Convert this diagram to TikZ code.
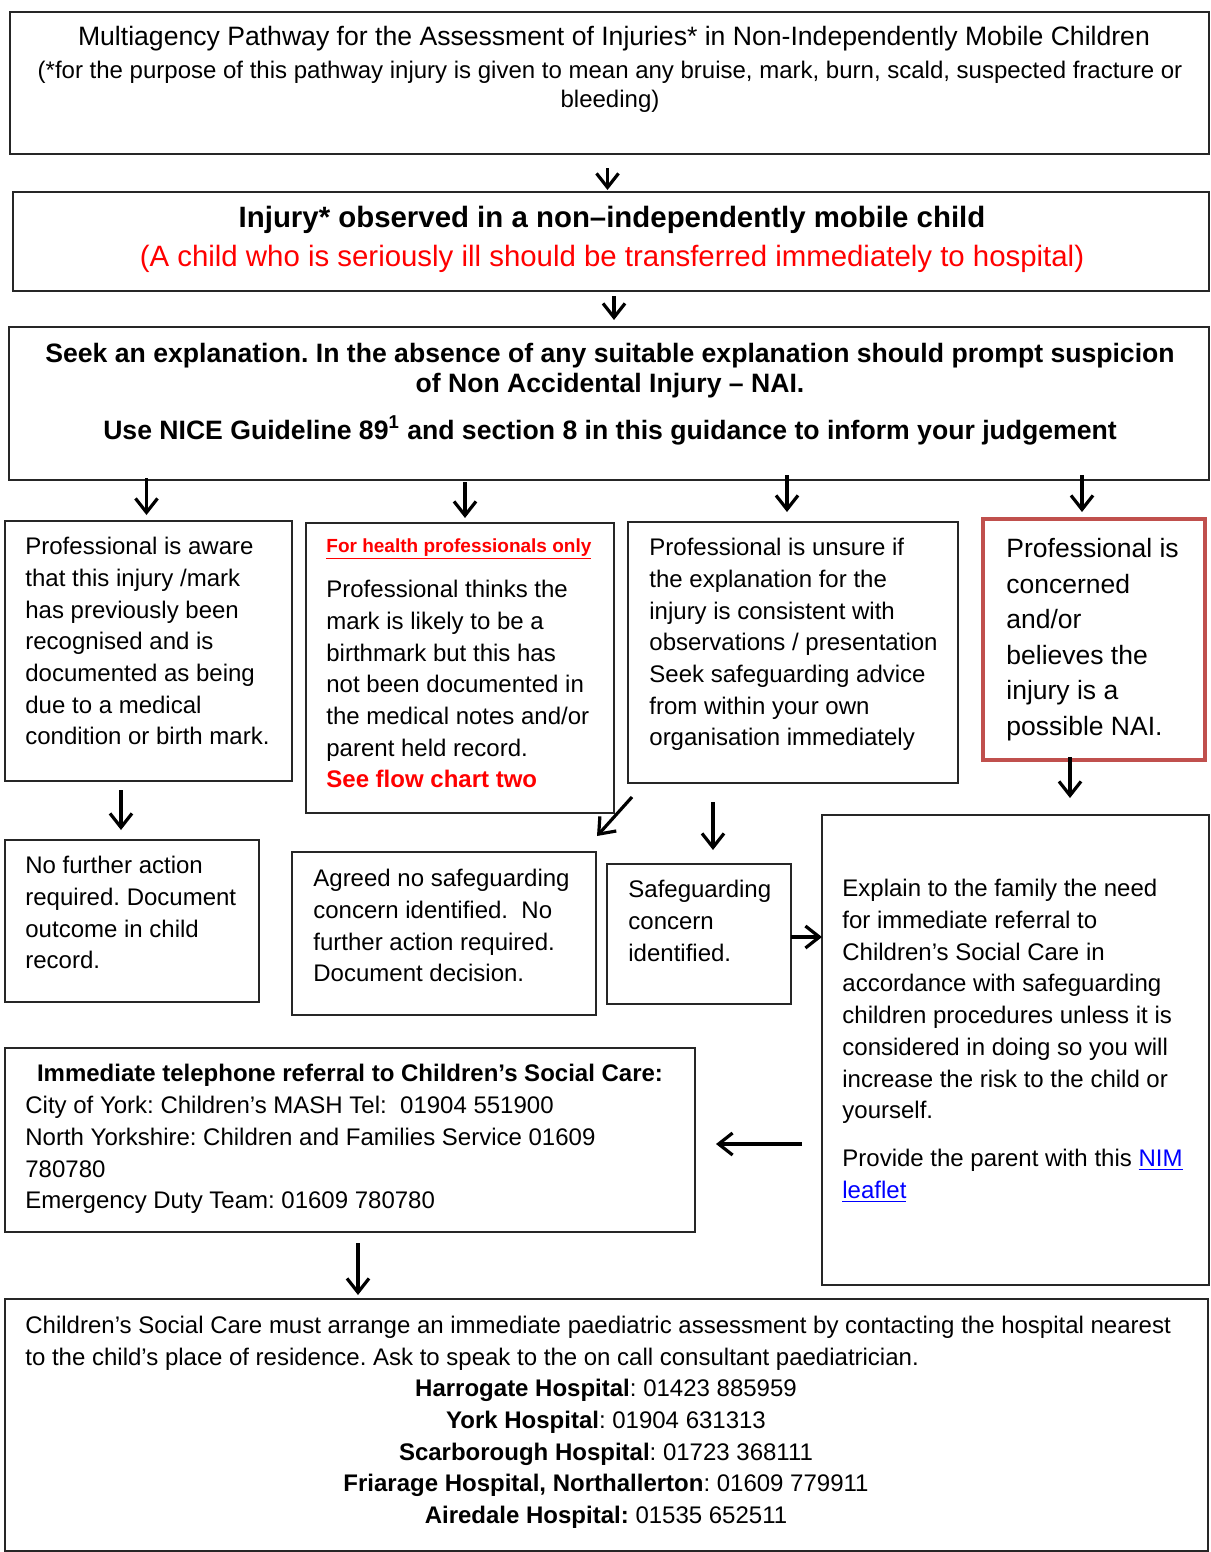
\documentclass[tikz,border=0pt]{standalone}
\usepackage{fontspec}
\setmainfont{Liberation Sans}
\usetikzlibrary{arrows.meta,calc}
\definecolor{redbox}{RGB}{192,80,77}
\definecolor{linkblue}{RGB}{0,0,255}
\definecolor{txtred}{RGB}{255,0,0}
\newcommand\lnk[1]{\textcolor{linkblue}{\underline{#1}}}
\frenchspacing
\begin{document}
\begin{tikzpicture}[x=0.5pt,y=-0.5pt,
  box/.style={draw=black!85, line width=0.75pt, anchor=north west, inner sep=0pt, outer sep=0pt},
  redframe/.style={draw=redbox, line width=2pt, anchor=north west, inner sep=0pt, outer sep=0pt},
  txt/.style={anchor=north west, inner sep=0pt, align=left, font=\fontsize{12}{15.85}\selectfont},
  ctxt/.style={inner sep=0pt, align=center},
  arr/.style={line width=1.6pt, -{Straight Barb[length=7pt,width=11pt,line width=1.6pt]}},
]
\useasboundingbox (0,0) rectangle (1210,1552);

% boxes
\node[box, minimum width=1199*0.5pt, minimum height=142*0.5pt] (b1) at (10,12) {};
\node[box, minimum width=1196*0.5pt, minimum height=99*0.5pt] (b2) at (13,192) {};
\node[box, minimum width=1200*0.5pt, minimum height=153*0.5pt] (b3) at (9,327) {};
\node[box, minimum width=287*0.5pt, minimum height=260*0.5pt] (b4a) at (5,521) {};
\node[box, minimum width=308*0.5pt, minimum height=290*0.5pt] (b4b) at (306,523) {};
\node[box, minimum width=330*0.5pt, minimum height=261*0.5pt] (b4c) at (628,522) {};
\node[redframe, minimum width=222*0.5pt, minimum height=241*0.5pt] (b4d) at (983,519) {};
\node[box, minimum width=254*0.5pt, minimum height=162*0.5pt] (b5a) at (5,840) {};
\node[box, minimum width=304*0.5pt, minimum height=163*0.5pt] (b5b) at (292,852) {};
\node[box, minimum width=184*0.5pt, minimum height=140*0.5pt] (b5c) at (607,864) {};
\node[box, minimum width=387*0.5pt, minimum height=470*0.5pt] (b6) at (822,815) {};
\node[box, minimum width=690*0.5pt, minimum height=184*0.5pt] (b7) at (5,1048) {};
\node[box, minimum width=1203*0.5pt, minimum height=252*0.5pt] (b8) at (5,1299) {};

% texts
\node[ctxt, anchor=base, font=\fontsize{13.3}{15}\selectfont] (t1a) at (614,46)
  {Multiagency Pathway for the Assessment of Injuries* in Non-Independently Mobile Children};
\node[ctxt, anchor=north, font=\fontsize{12}{14.5}\selectfont] (t1b) at (610,61)
  {(*for the purpose of this pathway injury is given to mean any bruise, mark, burn, scald, suspected fracture or\\ bleeding)};
\node[ctxt, anchor=base, font=\fontsize{14.7}{18}\selectfont\bfseries] (t2a) at (612,227)
  {Injury* observed in a non–independently mobile child};
\node[ctxt, anchor=base, font=\fontsize{14.7}{18}\selectfont, text=txtred] (t2b) at (612,266)
  {(A child who is seriously ill should be transferred immediately to hospital)};
\node[ctxt, anchor=north, font=\fontsize{13.3}{15}\selectfont\bfseries] (t3a) at (610,343)
  {Seek an explanation. In the absence of any suitable explanation should prompt suspicion\\ of Non Accidental Injury – NAI.};
\node[ctxt, anchor=base, font=\fontsize{13.3}{15}\selectfont\bfseries] (t3b) at (610,439)
  {Use NICE Guideline 89\textsuperscript{1} and section 8 in this guidance to inform your judgement};

\node[txt] (t4a) at (25,537)
  {Professional is aware\\ that this injury /mark\\ has previously been\\ recognised and is\\ documented as being\\ due to a medical\\ condition or birth mark.};
\node[anchor=base west, inner sep=0pt, font=\fontsize{9.5}{12}\selectfont\bfseries, text=txtred] (t4bh) at (326,552)
  {\underline{For health professionals only}};
\node[txt] (t4b) at (326,580)
  {Professional thinks the\\ mark is likely to be a\\ birthmark but this has\\ not been documented in\\ the medical notes and/or\\ parent held record.\\ {\bfseries\color{txtred}See flow chart two}};
\node[txt] (t4c) at (649,538)
  {Professional is unsure if\\ the explanation for the\\ injury is consistent with\\ observations / presentation\\ Seek safeguarding advice\\ from within your own\\ organisation immediately};
\node[txt, font=\fontsize{13.25}{17.75}\selectfont] (t4d) at (1006,538)
  {Professional is\\ concerned\\ and/or\\ believes the\\ injury is a\\ possible NAI.};

\node[txt] (t5a) at (25,856)
  {No further action\\ required. Document\\ outcome in child\\ record.};
\node[txt] (t5b) at (313,869)
  {Agreed no safeguarding\\ concern identified.~~No\\ further action required.\\ Document decision.};
\node[txt] (t5c) at (628,880)
  {Safeguarding\\ concern\\ identified.};
\node[txt] (t6) at (842,879)
  {Explain to the family the need\\ for immediate referral to\\ Children’s Social Care in\\ accordance with safeguarding\\ children procedures unless it is\\ considered in doing so you will\\ increase the risk to the child or\\ yourself.\\[8pt] Provide the parent with this \lnk{NIM}\\ \lnk{leaflet}};

\node[ctxt, anchor=base, font=\fontsize{12}{15.85}\selectfont\bfseries] (t7a) at (350,1081)
  {Immediate telephone referral to Children’s Social Care:};
\node[txt] (t7b) at (25,1096)
  {City of York: Children’s MASH Tel:~~01904 551900\\ North Yorkshire: Children and Families Service 01609\\ 780780\\ Emergency Duty Team: 01609 780780};

\node[txt] (t8a) at (25,1316)
  {Children’s Social Care must arrange an immediate paediatric assessment by contacting the hospital nearest\\ to the child’s place of residence. Ask to speak to the on call consultant paediatrician.};
\node[ctxt, anchor=north, font=\fontsize{12}{15.85}\selectfont] (t8b) at (606,1379)
  {\textbf{Harrogate Hospital}: 01423 885959\\ \textbf{York Hospital}: 01904 631313\\ \textbf{Scarborough Hospital}: 01723 368111\\ \textbf{Friarage Hospital, Northallerton}: 01609 779911\\ \textbf{Airedale Hospital:} 01535 652511};

% arrows
\draw[arr] ($(b1.south)+(-2,14)$) -- ($(b1.south |- b2.north)+(-2,-2)$);
\draw[arr] ($(b2.south)+(3,5)$) -- ($(b2.south |- b3.north)+(3,-7)$);
\draw[arr] ($(b4a.north |- b3.south)+(-2,-2)$) -- ($(b4a.north)+(-2,-6)$);
\draw[arr] ($(b4b.north |- b3.south)+(5,2)$) -- ($(b4b.north)+(5,-5)$);
\draw[arr] ($(b4c.north |- b3.south)+(-6,-5)$) -- ($(b4c.north)+(-6,-10)$);
\draw[arr] ($(b4d.north |- b3.south)+(-12,-5)$) -- ($(b4d.north)+(-12,-7)$);
\draw[arr] ($(b5a.north |- b4a.south)+(-11,9)$) -- ($(b5a.north)+(-11,-10)$);
\draw[arr] ($(b4d.south)+(-24,-3)$) -- ($(b4d.south |- b6.north)+(-24,-17)$);
\draw[arr] ($(b4c.south west)+(4,14)$) -- ($(b5b.north east)+(1,-16)$);
\draw[arr] ($(b5c.north |- b4c.south)+(14,19)$) -- ($(b5c.north)+(14,-14)$);
\draw[arr] ($(b5c.east)+(0,3)$) -- ($(b6.west |- b5c.east)+(0,3)$);
\draw[arr] ($(b6.west |- b7.east)+(-20,4)$) -- ($(b7.east)+(21,4)$);
\draw[arr] ($(b7.south)+(8,11)$) -- ($(b7.south |- b8.north)+(8,-4)$);
\end{tikzpicture}
\end{document}
